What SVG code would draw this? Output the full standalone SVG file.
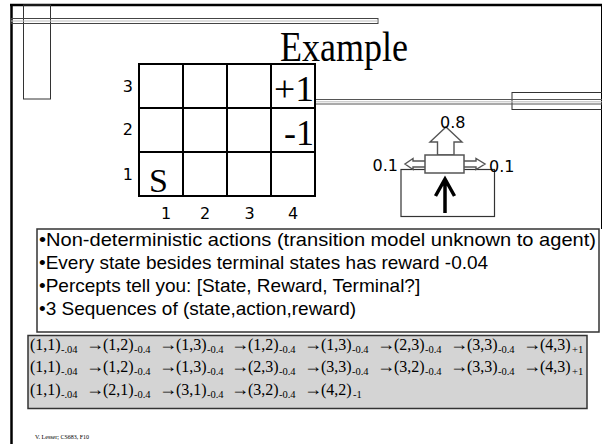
<svg xmlns="http://www.w3.org/2000/svg" width="602" height="444" viewBox="0 0 602 444">
<style>
.frame{stroke:#000;stroke-width:2.5;fill:none}
.bar{stroke:#333;stroke-width:1;fill:none}
.cell{stroke:#000;stroke-width:2;fill:#fff}
.lab{font-family:"DejaVu Sans",Verdana,sans-serif;font-size:16px;fill:#000}
.ser{font-family:"Liberation Serif","Times New Roman",serif;fill:#000}
.bul{font-family:"Liberation Sans",Arial,sans-serif;font-size:19px;fill:#000}
.seq{font-family:"Liberation Serif","Times New Roman",serif;font-size:16px;fill:#000}
.sub{font-size:10.5px}
.ar{font-size:18px}
.arr{stroke:#555;stroke-width:1.4;fill:#fff}
</style>
<rect width="602" height="444" fill="#fff"/>
<g id="frame">
  <line class="frame" x1="10" y1="5" x2="602" y2="5"/>
  <line class="frame" x1="11.5" y1="4" x2="11.5" y2="444"/>
  <line x1="601.5" y1="5" x2="601.5" y2="229" stroke="#000" stroke-width="1"/>
  <rect class="bar" x="23.5" y="5" width="27" height="94"/>
  <rect x="11" y="18.5" width="367" height="5" fill="none" stroke="#444" stroke-width="1"/>
  <line x1="11" y1="21" x2="378" y2="21" stroke="#bbb" stroke-width="1"/>
  <rect x="512" y="92.5" width="92" height="17" fill="none" stroke="#333" stroke-width="1"/>
  <rect x="315" y="99.5" width="290" height="4.5" fill="none" stroke="#555" stroke-width="1"/>
  <line x1="315" y1="101.8" x2="602" y2="101.8" stroke="#bbb" stroke-width="1"/>
</g>
<g id="title">
  <text class="ser" x="280" y="61" font-size="42" textLength="128" lengthAdjust="spacingAndGlyphs">Example</text>
</g>
<g id="grid">
  <rect class="cell" x="139" y="64" width="44" height="44"/>
  <rect class="cell" x="183" y="64" width="44" height="44"/>
  <rect class="cell" x="227" y="64" width="44" height="44"/>
  <rect class="cell" x="271" y="64" width="44" height="44"/>
  <rect class="cell" x="139" y="108" width="44" height="44"/>
  <rect class="cell" x="183" y="108" width="44" height="44"/>
  <rect class="cell" x="227" y="108" width="44" height="44"/>
  <rect class="cell" x="271" y="108" width="44" height="44"/>
  <rect class="cell" x="139" y="152" width="44" height="44"/>
  <rect class="cell" x="183" y="152" width="44" height="44"/>
  <rect class="cell" x="227" y="152" width="44" height="44"/>
  <rect class="cell" x="271" y="152" width="44" height="44"/>
  <text class="ser" x="314" y="101" font-size="36" text-anchor="end" textLength="40" lengthAdjust="spacingAndGlyphs">+1</text>
  <text class="ser" x="314" y="145" font-size="36" text-anchor="end" textLength="30" lengthAdjust="spacingAndGlyphs">-1</text>
  <text class="ser" x="149" y="192" font-size="34">S</text>
</g>
<g id="axis-labels">
  <text class="lab" x="133" y="92" text-anchor="end">3</text>
  <text class="lab" x="133" y="135" text-anchor="end">2</text>
  <text class="lab" x="133" y="180" text-anchor="end">1</text>
  <text class="lab" x="166" y="219" text-anchor="middle">1</text>
  <text class="lab" x="205" y="219" text-anchor="middle">2</text>
  <text class="lab" x="249.5" y="219" text-anchor="middle">3</text>
  <text class="lab" x="293" y="219" text-anchor="middle">4</text>
</g>
<g id="transition-model">
  <rect x="401" y="169.5" width="93.5" height="47" fill="none" stroke="#333" stroke-width="1.2"/>
  <polygon class="arr" points="437.5,155 437.5,142 430,142 446,127 462,142 454,142 454,155"/>
  <polygon class="arr" points="426,161 413,161 413,158.5 405,164 413,169.5 413,167 426,167"/>
  <polygon class="arr" points="463,161 476,161 476,158.5 485,164 476,169.5 476,167 463,167"/>
  <rect x="425" y="155" width="39" height="18" fill="#fff" stroke="#555" stroke-width="1.5"/>
  <path d="M445,213 L445,180 M435.5,196 L445,179 L454.5,196" fill="none" stroke="#000" stroke-width="3.5"/>
  <text class="lab" x="440" y="128" font-size="17">0.8</text>
  <text class="lab" x="398" y="171" font-size="17" text-anchor="end">0.1</text>
  <text class="lab" x="489" y="171.5" font-size="17">0.1</text>
</g>
<g id="bullets">
  <rect x="37" y="229" width="562" height="103" fill="#fff" stroke="#333" stroke-width="1.5"/>
  <text class="bul" x="39" y="246" textLength="557" lengthAdjust="spacingAndGlyphs">•Non-deterministic actions (transition model unknown to agent)</text>
  <text class="bul" x="39" y="269">•Every state besides terminal states has reward -0.04</text>
  <text class="bul" x="39" y="292">•Percepts tell you: [State, Reward, Terminal?]</text>
  <text class="bul" x="39" y="315">•3 Sequences of (state,action,reward)</text>
</g>
<g id="sequences">
  <rect x="28" y="335.5" width="559" height="73" fill="#d4d4d4" stroke="#333" stroke-width="1.5"/>
  <text class="seq" y="350">
    <tspan x="30">(1,1)</tspan><tspan class="sub" x="61" y="353">-.04</tspan>
    <tspan class="ar" x="86" y="350">→</tspan><tspan x="103">(1,2)</tspan><tspan class="sub" x="134" y="353">-0.4</tspan>
    <tspan class="ar" x="159" y="350">→</tspan><tspan x="176">(1,3)</tspan><tspan class="sub" x="207" y="353">-0.4</tspan>
    <tspan class="ar" x="231" y="350">→</tspan><tspan x="248">(1,2)</tspan><tspan class="sub" x="279" y="353">-0.4</tspan>
    <tspan class="ar" x="304" y="350">→</tspan><tspan x="321">(1,3)</tspan><tspan class="sub" x="352" y="353">-0.4</tspan>
    <tspan class="ar" x="377" y="350">→</tspan><tspan x="394">(2,3)</tspan><tspan class="sub" x="425" y="353">-0.4</tspan>
    <tspan class="ar" x="450" y="350">→</tspan><tspan x="467">(3,3)</tspan><tspan class="sub" x="498" y="353">-0.4</tspan>
    <tspan class="ar" x="523" y="350">→</tspan><tspan x="540">(4,3)</tspan><tspan class="sub" x="572" y="353">+1</tspan>
  </text>
  <text class="seq" y="372">
    <tspan x="30">(1,1)</tspan><tspan class="sub" x="61" y="375">-.04</tspan>
    <tspan class="ar" x="86" y="372">→</tspan><tspan x="103">(1,2)</tspan><tspan class="sub" x="134" y="375">-0.4</tspan>
    <tspan class="ar" x="159" y="372">→</tspan><tspan x="176">(1,3)</tspan><tspan class="sub" x="207" y="375">-0.4</tspan>
    <tspan class="ar" x="231" y="372">→</tspan><tspan x="248">(2,3)</tspan><tspan class="sub" x="279" y="375">-0.4</tspan>
    <tspan class="ar" x="304" y="372">→</tspan><tspan x="321">(3,3)</tspan><tspan class="sub" x="352" y="375">-0.4</tspan>
    <tspan class="ar" x="377" y="372">→</tspan><tspan x="394">(3,2)</tspan><tspan class="sub" x="425" y="375">-0.4</tspan>
    <tspan class="ar" x="450" y="372">→</tspan><tspan x="467">(3,3)</tspan><tspan class="sub" x="498" y="375">-0.4</tspan>
    <tspan class="ar" x="523" y="372">→</tspan><tspan x="540">(4,3)</tspan><tspan class="sub" x="572" y="375">+1</tspan>
  </text>
  <text class="seq" y="395">
    <tspan x="30">(1,1)</tspan><tspan class="sub" x="61" y="398">-.04</tspan>
    <tspan class="ar" x="86" y="395">→</tspan><tspan x="103">(2,1)</tspan><tspan class="sub" x="134" y="398">-0.4</tspan>
    <tspan class="ar" x="159" y="395">→</tspan><tspan x="176">(3,1)</tspan><tspan class="sub" x="207" y="398">-0.4</tspan>
    <tspan class="ar" x="231" y="395">→</tspan><tspan x="248">(3,2)</tspan><tspan class="sub" x="279" y="398">-0.4</tspan>
    <tspan class="ar" x="304" y="395">→</tspan><tspan x="321">(4,2)</tspan><tspan class="sub" x="353" y="398">-1</tspan>
  </text>
</g>
<g id="footer">
  <text class="ser" x="35" y="439" font-size="6" fill="#333">V. Lesser; CS683, F10</text>
</g>
</svg>
